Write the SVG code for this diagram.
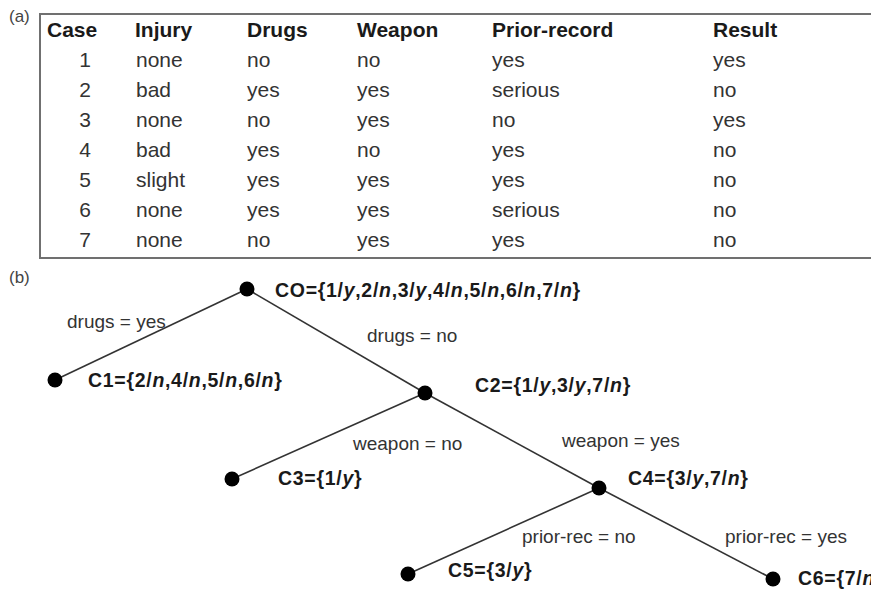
<svg xmlns="http://www.w3.org/2000/svg" width="871" height="589" viewBox="0 0 871 589">
<style>
  text { font-family: "Liberation Sans", Arial, sans-serif; fill: #333; }
  .panel { font-size: 17px; fill: #444; }
  .th { font-size: 21px; font-weight: bold; fill: #1a1a1a; }
  .td { font-size: 21px; }
  .num { font-size: 21px; text-anchor: middle; }
  .set { font-size: 19.5px; font-weight: bold; fill: #1a1a1a; letter-spacing: 0.7px; }
  .lbl { font-size: 19px; }
  .it { font-style: italic; }
  .edge { stroke: #333; stroke-width: 1.6; fill: none; }
  .node { fill: #000; }
</style>
<text class="panel" x="9" y="22">(a)</text>
<text class="panel" x="9" y="283">(b)</text>
<g id="table">
  <rect x="40" y="14" width="850" height="244" fill="#fff" stroke="#707070" stroke-width="2"/>
  <text class="th" x="47" y="37">Case</text>
  <text class="th" x="135" y="37">Injury</text>
  <text class="th" x="247" y="37">Drugs</text>
  <text class="th" x="357" y="37">Weapon</text>
  <text class="th" x="492" y="37">Prior-record</text>
  <text class="th" x="713" y="37">Result</text>
  <g id="row1"><text class="num" x="85" y="67">1</text><text class="td" x="136" y="67">none</text><text class="td" x="247" y="67">no</text><text class="td" x="357" y="67">no</text><text class="td" x="492" y="67">yes</text><text class="td" x="713" y="67">yes</text></g>
  <g id="row2"><text class="num" x="85" y="97">2</text><text class="td" x="136" y="97">bad</text><text class="td" x="247" y="97">yes</text><text class="td" x="357" y="97">yes</text><text class="td" x="492" y="97">serious</text><text class="td" x="713" y="97">no</text></g>
  <g id="row3"><text class="num" x="85" y="127">3</text><text class="td" x="136" y="127">none</text><text class="td" x="247" y="127">no</text><text class="td" x="357" y="127">yes</text><text class="td" x="492" y="127">no</text><text class="td" x="713" y="127">yes</text></g>
  <g id="row4"><text class="num" x="85" y="157">4</text><text class="td" x="136" y="157">bad</text><text class="td" x="247" y="157">yes</text><text class="td" x="357" y="157">no</text><text class="td" x="492" y="157">yes</text><text class="td" x="713" y="157">no</text></g>
  <g id="row5"><text class="num" x="85" y="187">5</text><text class="td" x="136" y="187">slight</text><text class="td" x="247" y="187">yes</text><text class="td" x="357" y="187">yes</text><text class="td" x="492" y="187">yes</text><text class="td" x="713" y="187">no</text></g>
  <g id="row6"><text class="num" x="85" y="217">6</text><text class="td" x="136" y="217">none</text><text class="td" x="247" y="217">yes</text><text class="td" x="357" y="217">yes</text><text class="td" x="492" y="217">serious</text><text class="td" x="713" y="217">no</text></g>
  <g id="row7"><text class="num" x="85" y="247">7</text><text class="td" x="136" y="247">none</text><text class="td" x="247" y="247">no</text><text class="td" x="357" y="247">yes</text><text class="td" x="492" y="247">yes</text><text class="td" x="713" y="247">no</text></g>
</g>
<g id="connectors">
  <line class="edge" x1="247" y1="289" x2="55" y2="380"/>
  <line class="edge" x1="247" y1="289" x2="425" y2="393"/>
  <line class="edge" x1="425" y1="393" x2="232" y2="479"/>
  <line class="edge" x1="425" y1="393" x2="599" y2="488"/>
  <line class="edge" x1="599" y1="488" x2="408" y2="574"/>
  <line class="edge" x1="599" y1="488" x2="773" y2="579"/>
  <text class="lbl" x="67" y="328">drugs = yes</text>
  <text class="lbl" x="367" y="342">drugs = no</text>
  <text class="lbl" x="353" y="450">weapon = no</text>
  <text class="lbl" x="562" y="447">weapon = yes</text>
  <text class="lbl" x="522" y="543">prior-rec = no</text>
  <text class="lbl" x="725" y="543">prior-rec = yes</text>
</g>
<g id="C0"><circle class="node" cx="247" cy="289" r="7.5"/><text class="set" x="275" y="297">CO={1/<tspan class="it">y</tspan>,2/<tspan class="it">n</tspan>,3/<tspan class="it">y</tspan>,4/<tspan class="it">n</tspan>,5/<tspan class="it">n</tspan>,6/<tspan class="it">n</tspan>,7/<tspan class="it">n</tspan>}</text></g>
<g id="C1"><circle class="node" cx="55" cy="380" r="7.5"/><text class="set" x="88" y="387">C1={2/<tspan class="it">n</tspan>,4/<tspan class="it">n</tspan>,5/<tspan class="it">n</tspan>,6/<tspan class="it">n</tspan>}</text></g>
<g id="C2"><circle class="node" cx="425" cy="393" r="7.5"/><text class="set" x="475" y="392">C2={1/<tspan class="it">y</tspan>,3/<tspan class="it">y</tspan>,7/<tspan class="it">n</tspan>}</text></g>
<g id="C3"><circle class="node" cx="232" cy="479" r="7.5"/><text class="set" x="278" y="485">C3={1/<tspan class="it">y</tspan>}</text></g>
<g id="C4"><circle class="node" cx="599" cy="488" r="7.5"/><text class="set" x="628" y="485">C4={3/<tspan class="it">y</tspan>,7/<tspan class="it">n</tspan>}</text></g>
<g id="C5"><circle class="node" cx="408" cy="574" r="7.5"/><text class="set" x="448" y="577">C5={3/<tspan class="it">y</tspan>}</text></g>
<g id="C6"><circle class="node" cx="773" cy="579" r="7.5"/><text class="set" x="798" y="585">C6={7/<tspan class="it">n</tspan>}</text></g>
</svg>
